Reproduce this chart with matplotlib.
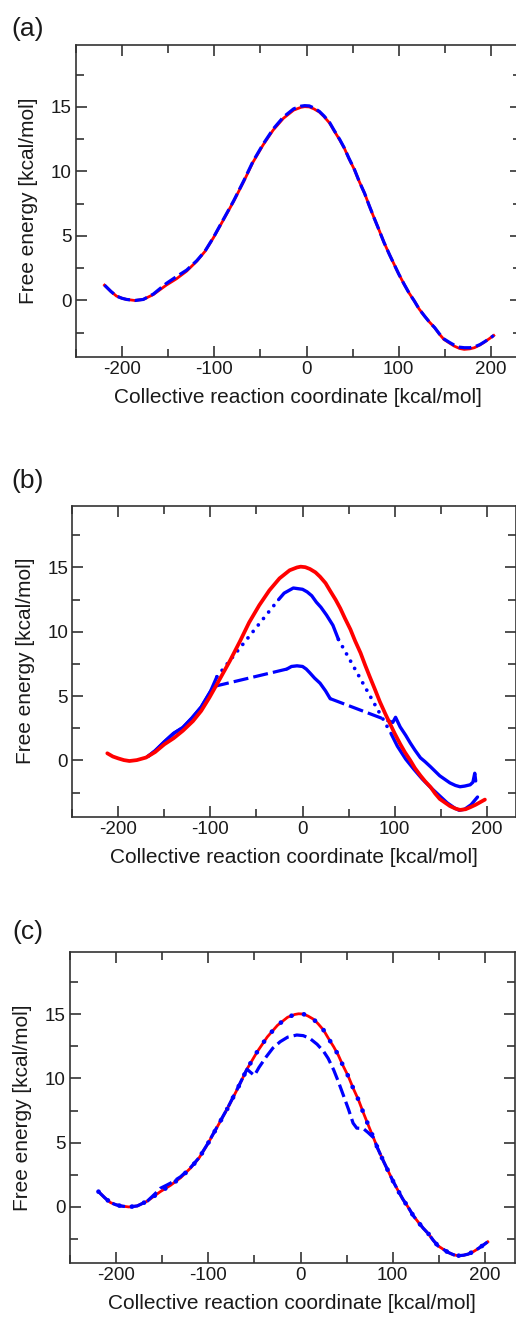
import matplotlib
matplotlib.use("Agg")
import matplotlib.pyplot as plt
from matplotlib.ticker import MultipleLocator

plt.rcParams['font.family'] = ['Liberation Sans', 'DejaVu Sans']
plt.rcParams['axes.unicode_minus'] = False

# ---------------- data ----------------
# reference free-energy profile (red, solid) for panels (a) and (c)
ref_x = [-219, -212, -206, -200, -195, -186, -177, -166, -152, -141, -130, -119, -110, -101,
         -90, -79, -68, -58, -47, -36, -25, -14, -6, -2, 3, 8, 14, 19, 25, 30, 36, 41, 46,
         52, 57, 63, 68, 73, 79, 84, 90, 95, 100, 106, 111, 117, 122, 128, 133, 139, 144,
         149, 155, 160, 166, 171, 177, 182, 188, 193, 198, 203]
ref_y = [1.19, 0.70, 0.34, 0.17, 0.08, 0.00, 0.08, 0.46, 1.19, 1.68, 2.27, 3.04, 3.81, 4.85,
         6.26, 7.68, 9.23, 10.72, 12.06, 13.22, 14.12, 14.75, 14.97, 15.02, 15.00, 14.85, 14.60,
         14.25, 13.75, 13.14, 12.45, 11.80, 11.00, 10.13, 9.25, 8.30, 7.35, 6.45, 5.40, 4.50,
         3.55, 2.80, 2.05, 1.24, 0.60, -0.05, -0.65, -1.21, -1.65, -2.11, -2.60, -3.02, -3.30,
         -3.53, -3.72, -3.79, -3.75, -3.66, -3.45, -3.22, -2.97, -2.71]

# panel (a): blue dashed estimate
a_blue_x = ref_x
a_blue_y = [1.19, 0.70, 0.34, 0.17, 0.08, 0.00, 0.08, 0.50, 1.32, 1.85, 2.35, 3.08, 3.83, 4.87,
            6.30, 7.72, 9.28, 10.78, 12.12, 13.30, 14.22, 14.85, 15.06, 15.10, 15.08, 14.92,
            14.65, 14.30, 13.80, 13.18, 12.48, 11.82, 11.02, 10.15, 9.25, 8.30, 7.35, 6.45,
            5.40, 4.50, 3.55, 2.80, 2.05, 1.24, 0.60, -0.05, -0.65, -1.21, -1.65, -2.11, -2.58,
            -2.98, -3.25, -3.45, -3.62, -3.66, -3.66, -3.60, -3.42, -3.20, -2.97, -2.71]

# panel (b): noisy reference (red)
b_red_x = [-212, -206, -200, -194, -188, -180, -170, -160, -150, -140, -130, -119, -110, -101,
           -90, -79, -68, -58, -47, -36, -25, -14, -6, -2, 3, 8, 14, 19, 25, 30, 36, 41, 46,
           52, 57, 63, 68, 73, 79, 84, 90, 95, 100, 106, 111, 117, 122, 128, 133, 139, 144,
           149, 155, 160, 166, 171, 177, 182, 188, 193, 198]
b_red_y = [0.55, 0.30, 0.15, 0.02, -0.05, 0.02, 0.22, 0.65, 1.25, 1.72, 2.30, 3.05, 3.85, 4.90,
           6.30, 7.72, 9.25, 10.72, 12.06, 13.22, 14.15, 14.78, 15.00, 15.06, 15.02, 14.88,
           14.62, 14.28, 13.78, 13.18, 12.48, 11.82, 11.05, 10.18, 9.30, 8.35, 7.40, 6.50,
           5.45, 4.55, 3.60, 2.85, 2.10, 1.28, 0.65, 0.00, -0.60, -1.18, -1.62, -2.08, -2.58,
           -3.00, -3.30, -3.55, -3.75, -3.85, -3.80, -3.65, -3.45, -3.25, -3.05]

# panel (b): blue dotted estimate (sampled windows + gaps)
b_dot_win1_x = [-168, -160, -150, -140, -130, -120, -110, -100, -93]
b_dot_win1_y = [0.30, 0.75, 1.45, 2.10, 2.55, 3.30, 4.15, 5.35, 6.50]
b_dot_win2_x = [-26, -20, -15, -10, -5, 0, 5, 10, 15, 20, 26, 33, 39]
b_dot_win2_y = [12.5, 13.0, 13.2, 13.4, 13.35, 13.3, 13.1, 12.8, 12.3, 11.9, 11.3, 10.5, 9.4]
b_dot_win3_x = [96, 103, 112, 121, 130, 139, 148, 157, 165, 170, 176, 183, 190]
b_dot_win3_y = [2.1, 1.1, 0.1, -0.7, -1.45, -2.1, -2.7, -3.3, -3.7, -3.88, -3.8, -3.45, -2.85]

# panel (b): blue dashed estimate (sampled windows + gaps)
b_dash_win1_x = b_dot_win1_x[:-1] + [-96]
b_dash_win1_y = b_dot_win1_y[:-1] + [5.75]
b_dash_win2_x = [-17, -12, -6, 0, 4, 8, 13, 19, 25, 30]
b_dash_win2_y = [7.1, 7.3, 7.35, 7.3, 7.1, 6.8, 6.4, 6.0, 5.4, 4.8]
b_dash_win3_x = [98, 101, 106, 112, 117, 122, 128, 133, 139, 144, 149, 155, 160, 166, 171,
                 176, 182, 185, 187, 188]
b_dash_win3_y = [2.95, 3.35, 2.6, 1.95, 1.35, 0.8, 0.2, -0.1, -0.5, -0.85, -1.2, -1.5, -1.75,
                 -1.95, -2.05, -2.0, -1.9, -1.7, -1.0, -1.6]

# panel (c): blue dotted equals reference, blue dashed deviates near barrier
c_dot_x = ref_x
c_dot_y = ref_y
c_dash_x = [-219, -212, -206, -200, -195, -186, -177, -166, -158, -152, -145, -141, -130, -119,
            -110, -101, -90, -79, -68, -58, -55, -50, -45, -37, -30, -22, -14, -4, 3, 10, 18,
            25, 30, 36, 41, 47, 52, 57, 61, 68, 73, 79, 84, 90, 95, 100, 106, 111, 117, 122,
            128, 133, 139, 144, 149, 155, 160, 166, 171, 177, 182, 188, 193, 198, 203]
c_dash_y = [1.19, 0.70, 0.34, 0.17, 0.08, 0.00, 0.08, 0.46, 1.00, 1.45, 1.70, 1.85, 2.35, 3.08,
            3.83, 4.87, 6.28, 7.70, 9.25, 10.72, 10.52, 10.22, 10.85, 11.69, 12.35, 12.85, 13.20,
            13.37, 13.32, 13.11, 12.65, 12.10, 11.55, 10.65, 9.75, 8.58, 7.60, 6.52, 6.13, 6.10,
            5.80, 5.40, 4.50, 3.55, 2.80, 2.05, 1.24, 0.60, -0.05, -0.65, -1.21, -1.65, -2.11,
            -2.60, -3.02, -3.30, -3.53, -3.72, -3.79, -3.75, -3.66, -3.45, -3.22, -2.97, -2.71]

x_ticks = [-200, -100, 0, 100, 200]
y_ticks = [0, 5, 10, 15]
xlabel = "Collective reaction coordinate [kcal/mol]"
ylabel = "Free energy [kcal/mol]"
panel_labels = ["(a)", "(b)", "(c)"]

# ---------------- figure ----------------
W, H = 516, 1317
fig = plt.figure(figsize=(W / 100, H / 100), dpi=100)
TXT = '#1a1a1a'
RED = '#ff0000'
BLUE = '#0000ff'


def make_ax(left, right, top, bottom):
    ax = fig.add_axes([left / W, 1 - bottom / H, (right - left) / W, (bottom - top) / H])
    ax.set_xlim(-250, 232)
    ax.set_ylim(-4.38, 19.8)
    ax.set_xticks(x_ticks)
    ax.set_yticks(y_ticks)
    ax.xaxis.set_minor_locator(MultipleLocator(50))
    ax.yaxis.set_minor_locator(MultipleLocator(2.5))
    ax.tick_params(which='both', direction='in', top=True, right=True, colors='#333333',
                   labelcolor=TXT, labelsize=13.5, width=1.2)
    ax.tick_params(which='major', length=8, pad=3)
    ax.tick_params(which='minor', length=5.5)
    for s in ax.spines.values():
        s.set_linewidth(1.2)
        s.set_color('#333333')
    ax.set_xlabel(xlabel, fontsize=15, color=TXT, labelpad=7)
    ax.set_ylabel(ylabel, fontsize=15, color=TXT, labelpad=9)
    return ax


# (a)
ax_a = make_ax(75.9, 520.5, 45, 357)
ax_a.plot(ref_x, ref_y, color=RED, lw=2.0, solid_joinstyle='round')
ax_a.plot(a_blue_x, a_blue_y, color=BLUE, lw=2.3, dashes=[4.0, 1.5])

# (b)
ax_b = make_ax(72.3, 516.2, 505.7, 816.7)
dot_kw = dict(color=BLUE, lw=2.7, dashes=[0.01, 2.2], dash_capstyle='round')
dash_kw = dict(color=BLUE, lw=2.3, dashes=[4.7, 1.6])
fuzz_kw = dict(color=BLUE, lw=2.4, solid_joinstyle='round', solid_capstyle='round')
# gaps (straight connectors between sampled windows)
ax_b.plot([b_dot_win1_x[-1], b_dot_win2_x[0]], [b_dot_win1_y[-1], b_dot_win2_y[0]], **dot_kw)
ax_b.plot([b_dot_win2_x[-1], b_dot_win3_x[0]], [b_dot_win2_y[-1], b_dot_win3_y[0]], **dot_kw)
ax_b.plot([b_dash_win1_x[-1], b_dash_win2_x[0]], [b_dash_win1_y[-1], b_dash_win2_y[0]], **dash_kw)
ax_b.plot([b_dash_win2_x[-1], b_dash_win3_x[0]], [b_dash_win2_y[-1], b_dash_win3_y[0]], **dash_kw)
# sampled windows (noisy)
for xs, ys in [(b_dot_win1_x, b_dot_win1_y), (b_dot_win2_x, b_dot_win2_y),
               (b_dot_win3_x, b_dot_win3_y), (b_dash_win1_x, b_dash_win1_y),
               (b_dash_win2_x, b_dash_win2_y), (b_dash_win3_x, b_dash_win3_y)]:
    ax_b.plot(xs, ys, **fuzz_kw)
ax_b.plot(b_red_x, b_red_y, color=RED, lw=2.7, solid_joinstyle='round', solid_capstyle='round')

# (c)
ax_c = make_ax(69.9, 514.5, 952.3, 1263.3)
ax_c.plot(ref_x, ref_y, color=RED, lw=2.0, solid_joinstyle='round')
ax_c.plot(c_dash_x, c_dash_y, color=BLUE, lw=2.3, dashes=[4.1, 1.6])
ax_c.plot(c_dot_x, c_dot_y, color=BLUE, lw=3.4, dashes=[0.01, 2.7], dash_capstyle='round')

# panel letters
for lab, (px, py) in zip(panel_labels, [(28, 29), (28, 481), (28, 932)]):
    fig.text(px / W, 1 - py / H, lab, fontsize=19, color=TXT, ha='center', va='center')

fig.savefig("out.png", dpi=100)
